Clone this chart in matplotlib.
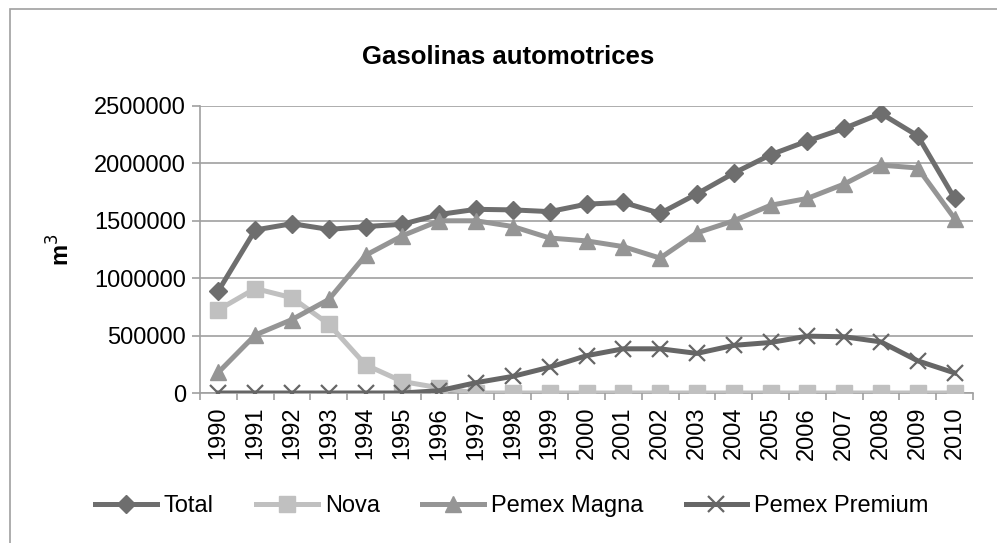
import matplotlib
matplotlib.use("Agg")
import matplotlib.pyplot as plt
from matplotlib.patches import Rectangle
import numpy as np

plt.rcParams['font.family'] = ['Liberation Sans', 'DejaVu Sans']

years = [str(y) for y in range(1990, 2011)]
total = [890000, 1420000, 1475000, 1425000, 1450000, 1470000, 1555000, 1600000,
         1595000, 1580000, 1645000, 1660000, 1565000, 1735000, 1915000, 2075000,
         2195000, 2305000, 2435000, 2240000, 1695000]
nova = [725000, 910000, 830000, 600000, 245000, 100000, 45000, 0,
        0, 0, 0, 0, 0, 0, 0, 0,
        0, 0, 0, 0, 0]
magna = [180000, 505000, 640000, 815000, 1200000, 1370000, 1500000, 1500000,
         1450000, 1350000, 1325000, 1275000, 1175000, 1395000, 1500000, 1635000,
         1695000, 1820000, 1985000, 1960000, 1520000]
premium = [0, 0, 0, 0, 0, 0, 20000, 90000,
           145000, 225000, 325000, 385000, 385000, 345000, 415000, 440000,
           495000, 490000, 445000, 280000, 175000]

fs = 17

fig = plt.figure(figsize=(9.97, 5.43), dpi=100)
fig.patches.append(Rectangle((10 / 997, -0.05), 1.2, 1 - 9 / 543 + 0.05,
                             transform=fig.transFigure, fill=False,
                             edgecolor='#a0a0a0', linewidth=1.2))
ax = fig.add_axes([200 / 997, 1 - 393 / 543, 773 / 997, 287 / 543])

x = np.arange(len(years))
ax.plot(x, total, color='#6e6e6e', lw=3.6, marker='D', ms=9, label='Total', zorder=3)
ax.plot(x, nova, color='#c0c0c0', lw=3.6, marker='s', ms=11, label='Nova', zorder=4)
ax.plot(x, magna, color='#959595', lw=3.6, marker='^', ms=12, label='Pemex Magna', zorder=5)
ax.plot(x, premium, color='#666666', lw=3.6, marker='x', ms=12, mew=1.6,
        label='Pemex Premium', zorder=6)

ax.set_ylim(0, 2500000)
ax.set_xlim(-0.5, len(years) - 0.5)
ax.set_yticks(np.arange(0, 2500001, 500000))
ax.set_yticklabels([str(v) for v in range(0, 2500001, 500000)], fontsize=fs)
ax.yaxis.grid(True, color='#a0a0a0', lw=1.2)
ax.set_axisbelow(True)

ax.set_xticks(x)
ax.set_xticklabels(years, rotation=90, fontsize=fs)
ax.set_xticks(np.arange(-0.5, len(years)), minor=True)
ax.tick_params(axis='x', which='major', length=0, pad=10)
ax.tick_params(axis='x', which='minor', length=5, color='#a0a0a0', width=1.2)
ax.tick_params(axis='y', length=6, color='#a0a0a0', width=1.2, pad=4)

for s in ['top', 'right']:
    ax.spines[s].set_visible(False)
for s in ['left', 'bottom']:
    ax.spines[s].set_color('#a0a0a0')
    ax.spines[s].set_linewidth(1.2)

ax.set_ylabel('m$^3$', fontsize=fs, fontweight='bold', labelpad=14)
fig.text(508 / 997, 1 - 57 / 543, 'Gasolinas automotrices', ha='center', va='center',
         fontsize=18.5, fontweight='bold')

fig.legend(loc='center', bbox_to_anchor=(512 / 997, 1 - 506 / 543), ncol=4,
           frameon=False, fontsize=fs, handlelength=2.6, handletextpad=0.3,
           columnspacing=1.8)

fig.savefig('out.png', dpi=100)
